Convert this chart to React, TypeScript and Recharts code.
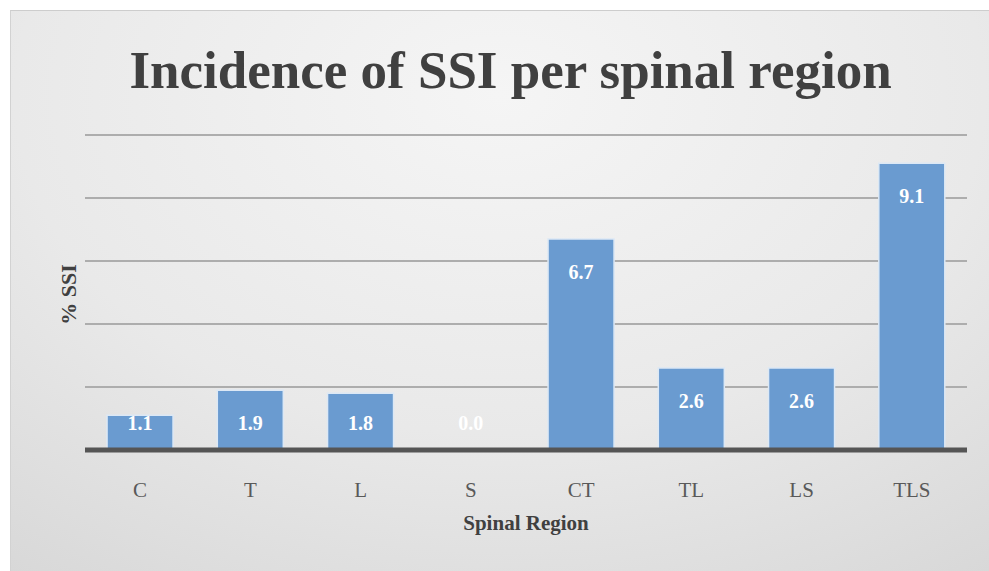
import React from 'react';
import { BarChart, Bar, XAxis, YAxis, CartesianGrid, LabelList, Label } from 'recharts';

const regions = ['C', 'T', 'L', 'S', 'CT', 'TL', 'LS', 'TLS'];
const ssiPercent = [1.1, 1.9, 1.8, 0.0, 6.7, 2.6, 2.6, 9.1];
const yTicks = [0, 2, 4, 6, 8, 10];

const data = regions.map((region, i) => ({ region, ssi: ssiPercent[i] }));

const SERIF = '"Liberation Serif", "DejaVu Serif", serif';

const RegionTick = (props: any) => {
    const { x, y, payload } = props;
    return (
        <text
            x={x}
            y={y + 40}
            textAnchor="middle"
            dominantBaseline="central"
            fontFamily={SERIF}
            fontSize={21}
            fill="#595959"
        >
            {payload.value}
        </text>
    );
};

const ValueLabel = (props: any) => {
    const { x, y, width, height, value } = props;
    const cy = Math.min(y + 33, y + height - 27);
    return (
        <text
            x={x + width / 2}
            y={cy}
            textAnchor="middle"
            dominantBaseline="central"
            fontFamily={SERIF}
            fontWeight="bold"
            fontSize={20}
            fill="#ffffff"
        >
            {Number(value).toFixed(1)}
        </text>
    );
};

export default function App() {
    return (
        <div style={{ position: 'absolute', left: 0, top: 0, width: 989, height: 571, background: '#ffffff' }}>
            <div
                style={{
                    position: 'absolute',
                    left: 10,
                    top: 10,
                    width: 979,
                    height: 561,
                    boxSizing: 'border-box',
                    borderTop: '1px solid #cdcdcd',
                    borderLeft: '1px solid #d2d2d2',
                    background: 'radial-gradient(ellipse 90% 110% at 50% 15%, #f5f5f5 0%, #e9e9e9 55%, #d6d6d6 100%)',
                }}
            >
                <div
                    style={{
                        position: 'absolute',
                        left: 0,
                        top: 31,
                        width: 999,
                        textAlign: 'center',
                        fontFamily: SERIF,
                        fontWeight: 'bold',
                        fontSize: 53,
                        lineHeight: '56px',
                        color: '#404040',
                    }}
                >
                    Incidence of SSI per spinal region
                </div>
                <div style={{ position: 'absolute', left: -1, top: -1 }}>
                    <BarChart
                        width={979}
                        height={561}
                        data={data}
                        margin={{ top: 125, right: 22, left: 0, bottom: 0 }}
                        barCategoryGap="20%"
                    >
                        <CartesianGrid vertical={false} stroke="#adadad" strokeWidth={2} />
                        <YAxis
                            width={75}
                            domain={[0, 10]}
                            ticks={yTicks}
                            tick={{ fill: 'none', fontSize: 1 }}
                            tickFormatter={() => ''}
                            axisLine={false}
                            tickLine={false}
                        >
                            <Label
                                content={(p: any) => {
                                    const vb = p.viewBox;
                                    const cx = 58;
                                    const cy = vb.y + vb.height / 2 + 2;
                                    return (
                                        <text
                                            x={cx}
                                            y={cy}
                                            transform={`rotate(-90 ${cx} ${cy})`}
                                            textAnchor="middle"
                                            dominantBaseline="central"
                                            fontFamily={SERIF}
                                            fontWeight="bold"
                                            fontSize={22}
                                            fill="#404040"
                                        >
                                            % SSI
                                        </text>
                                    );
                                }}
                            />
                        </YAxis>
                        <XAxis
                            dataKey="region"
                            height={121}
                            tickSize={0}
                            tickMargin={0}
                            tickLine={false}
                            axisLine={{ stroke: '#555555', strokeWidth: 5 }}
                            tick={<RegionTick />}
                        >
                            <Label
                                content={(p: any) => {
                                    const vb = p.viewBox;
                                    return (
                                        <text
                                            x={vb.x + vb.width / 2}
                                            y={vb.y + 73}
                                            textAnchor="middle"
                                            dominantBaseline="central"
                                            fontFamily={SERIF}
                                            fontWeight="bold"
                                            fontSize={21}
                                            fill="#404040"
                                        >
                                            Spinal Region
                                        </text>
                                    );
                                }}
                            />
                        </XAxis>
                        <Bar
                            dataKey="ssi"
                            fill="#6a9bd0"
                            stroke="#dce8f5"
                            strokeWidth={1.5}
                            minPointSize={(v: number) => (v === 0 ? 0.5 : 0)}
                            isAnimationActive={false}
                        >
                            <LabelList dataKey="ssi" content={<ValueLabel />} />
                        </Bar>
                    </BarChart>
                </div>
            </div>
        </div>
    );
}
